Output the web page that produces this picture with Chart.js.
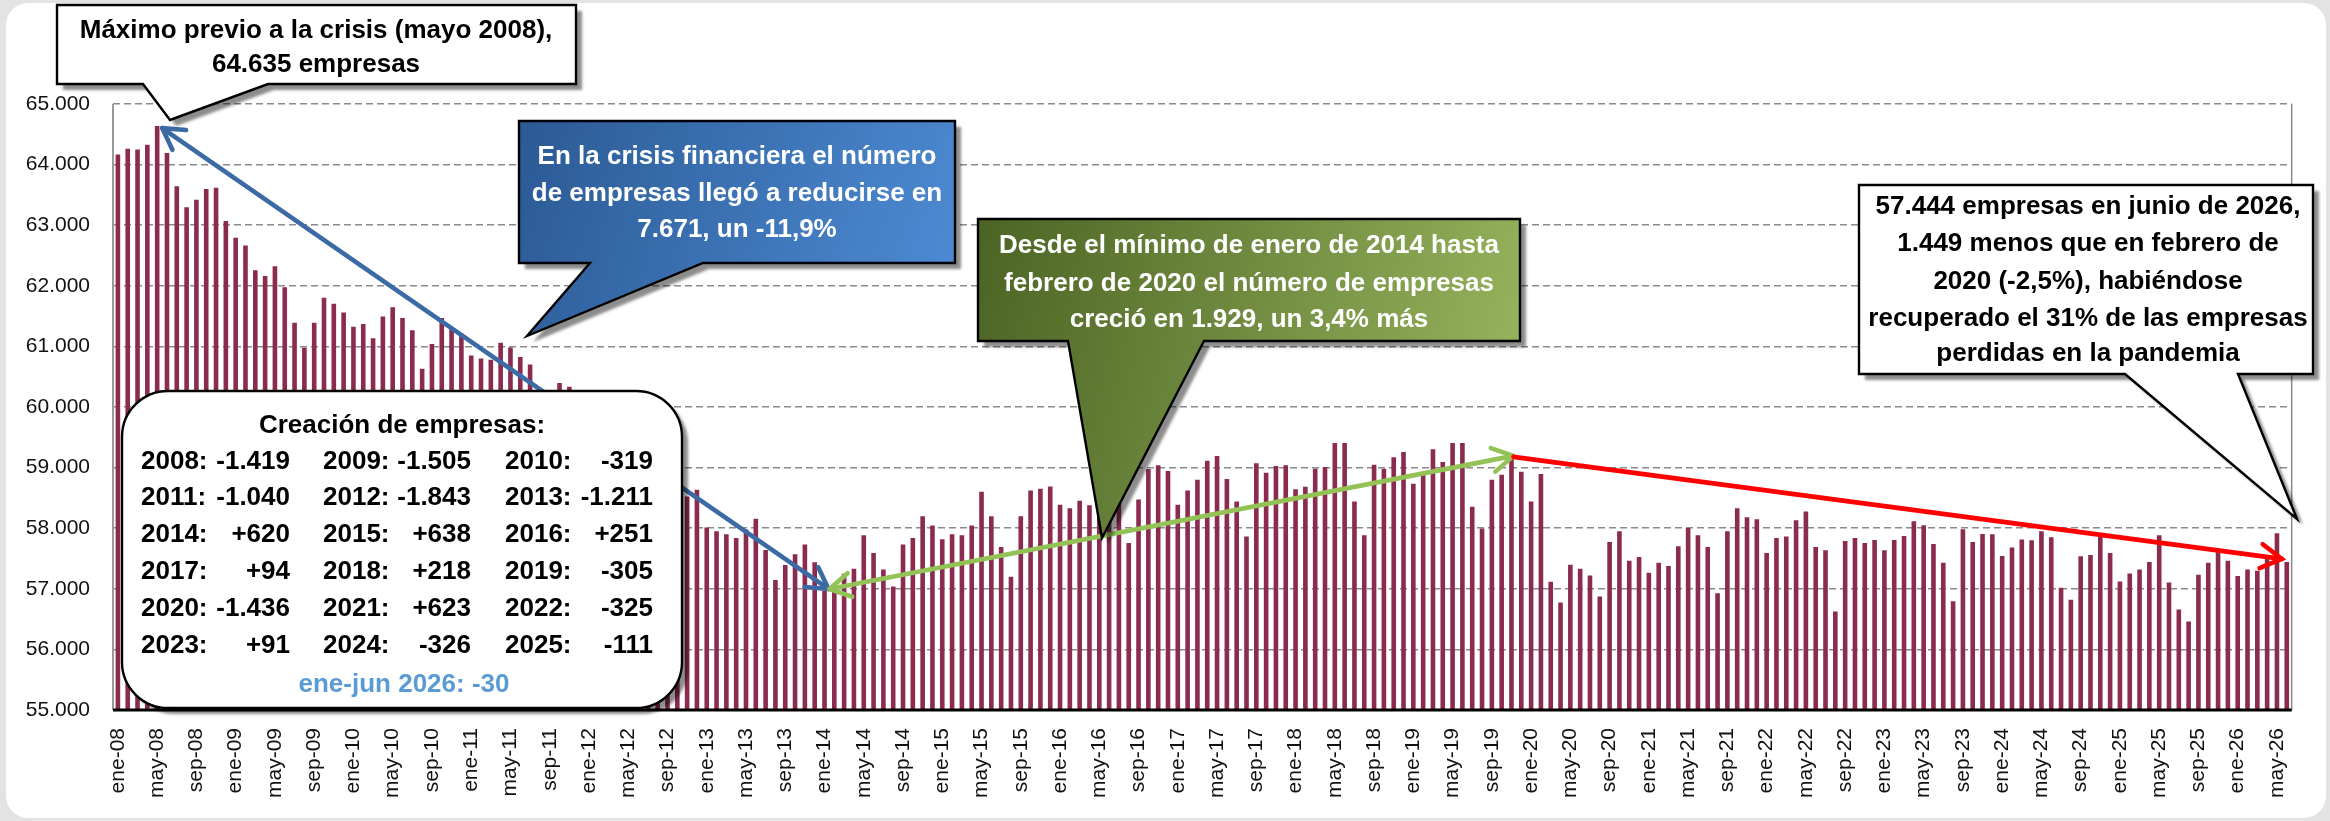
<!DOCTYPE html>
<html><head><meta charset="utf-8">
<script src="https://cdn.jsdelivr.net/npm/chart.js@4"></script>
<style>html,body{margin:0;padding:0;background:#e3e3e3;}canvas{display:block}</style>
</head><body>
<canvas id="c" width="2330" height="821"></canvas>
<script>
// ---------- DATA ----------
const meses = ['ene','feb','mar','abr','may','jun','jul','ago','sep','oct','nov','dic'];
const anios = ['08','09','10','11','12','13','14','15','16','17','18','19','20','21','22','23','24','25','26'];
// Número de empresas, ene-08 ... jun-26 (una fila por año)
const empresas = [
  64165,64262,64249,64328,64635,64190,63642,63296,63420,63597,63616,63068,
  62794,62663,62258,62161,62324,61978,61390,60979,61390,61802,61704,61560,
  61325,61371,61136,61495,61645,61469,61266,60633,61040,61469,61295,61210,
  60850,60800,60780,61060,60980,60825,60700,60180,60120,60398,60333,60150,
  59950,59850,59700,59750,59550,59300,59200,59000,58850,58750,58523,58634,
  58013,57948,57902,57837,57980,58157,57641,57145,57393,57569,57732,57439,
  56964,57050,57250,57330,57885,57591,57317,57036,57732,57837,58196,58045,
  57817,57902,57885,58045,58603,58196,57689,57200,58196,58623,58649,58688,
  58388,58329,58453,58380,58420,58330,58505,57754,58472,58975,59040,58943,
  58388,58623,58799,59112,59191,58812,58440,57865,59073,58916,59027,59040,
  58642,58685,58982,59008,59406,59406,58440,57885,59047,58982,59171,59256,
  58734,58930,59302,59093,59406,59406,58355,57995,58799,58884,59210,58930,
  58440,58893,57115,56775,57395,57330,57219,56873,57774,57950,57461,57526,
  57265,57428,57376,57702,58003,57885,57689,56925,57950,58329,58179,58146,
  57591,57839,57865,58133,58277,57689,57637,56625,57787,57839,57754,57807,
  57637,57807,57872,58114,58048,57741,57428,56795,57983,57774,57905,57900,
  57540,57680,57815,57800,57950,57852,57016,56821,57539,57559,57865,57591,
  57121,57252,57317,57441,57885,57102,56658,56462,57232,57428,57624,57461,
  57213,57317,57298,57539,57918,57444
];
const yTicks = [55000,56000,57000,58000,59000,60000,61000,62000,63000,64000,65000];
const creacionAnios = ['2008','2009','2010','2011','2012','2013','2014','2015','2016','2017','2018','2019','2020','2021','2022','2023','2024','2025'];
const creacionValores = ['-1.419','-1.505','-319','-1.040','-1.843','-1.211','+620','+638','+251','+94','+218','-305','-1.436','+623','-325','+91','-326','-111'];
const creacion2026 = 'ene-jun 2026: -30';
const anclas = { pico: 4, minimo: 72, preCovid: 142, ultimo: 221 };

const categorias = [];
anios.forEach(a => meses.forEach(m => { if (categorias.length < empresas.length) categorias.push(m + '-' + a); }));

// ---------- DRAW HELPERS ----------
const FONT = '"Liberation Sans", Arial, sans-serif';
function fmt(v){ return String(v).replace(/\B(?=(\d{3})+(?!\d))/g,'.'); }

function calloutPath(ctx,o){
  ctx.beginPath();
  ctx.moveTo(o.l,o.t); ctx.lineTo(o.r,o.t); ctx.lineTo(o.r,o.b);
  ctx.lineTo(o.br,o.b); ctx.lineTo(o.tip[0],o.tip[1]); ctx.lineTo(o.bl,o.b);
  ctx.lineTo(o.l,o.b); ctx.closePath();
}
function callout(ctx,o){
  ctx.save();
  calloutPath(ctx,o);
  ctx.shadowColor='rgba(0,0,0,0.45)'; ctx.shadowOffsetX=6; ctx.shadowOffsetY=6; ctx.shadowBlur=3;
  if (o.grad){
    const g = ctx.createLinearGradient(o.l,o.t,o.r,o.b);
    g.addColorStop(0,o.grad[0]); g.addColorStop(1,o.grad[1]);
    ctx.fillStyle=g;
  } else ctx.fillStyle='#fff';
  ctx.fill();
  ctx.shadowColor='transparent';
  ctx.lineWidth=2.4; ctx.strokeStyle='#000'; ctx.lineJoin='miter'; ctx.stroke();
  ctx.fillStyle=o.color; ctx.font='bold 26px '+FONT; ctx.textAlign='center'; ctx.textBaseline='middle';
  o.lines.forEach((s,i)=>ctx.fillText(s,o.cx,o.ys[i]));
  ctx.restore();
}
function arrowHead(ctx,x0,y0,x1,y1,len){
  const a=Math.atan2(y1-y0,x1-x0), h=Math.PI/6;
  ctx.beginPath();
  ctx.moveTo(x1-len*Math.cos(a-h), y1-len*Math.sin(a-h));
  ctx.lineTo(x1,y1);
  ctx.lineTo(x1-len*Math.cos(a+h), y1-len*Math.sin(a+h));
  ctx.stroke();
}
function arrow(ctx,p0,p1,color,w,both){
  ctx.save(); ctx.strokeStyle=color; ctx.lineWidth=w; ctx.lineCap='round'; ctx.lineJoin='round';
  ctx.beginPath(); ctx.moveTo(p0[0],p0[1]); ctx.lineTo(p1[0],p1[1]); ctx.stroke();
  arrowHead(ctx,p0[0],p0[1],p1[0],p1[1],24);
  if (both) arrowHead(ctx,p1[0],p1[1],p0[0],p0[1],24);
  ctx.restore();
}
function roundRect(ctx,x,y,w,h,r){
  ctx.beginPath();
  ctx.moveTo(x+r,y); ctx.lineTo(x+w-r,y); ctx.arcTo(x+w,y,x+w,y+r,r);
  ctx.lineTo(x+w,y+h-r); ctx.arcTo(x+w,y+h,x+w-r,y+h,r);
  ctx.lineTo(x+r,y+h); ctx.arcTo(x,y+h,x,y+h-r,r);
  ctx.lineTo(x,y+r); ctx.arcTo(x,y,x+r,y,r); ctx.closePath();
}

const deco = {
  id:'deco',
  beforeDraw(chart){
    const ctx=chart.ctx;
    ctx.save();
    ctx.fillStyle='#e3e3e3'; ctx.fillRect(0,0,chart.width,chart.height);
    roundRect(ctx,6,3,2320,815,22); ctx.fillStyle='#fff'; ctx.fill();
    ctx.restore();
  },
  afterDatasetsDraw(chart){
    const ctx=chart.ctx, a=chart.chartArea, xs=chart.scales.x, ys=chart.scales.y;
    ctx.save();
    // axis frame
    ctx.strokeStyle='#9a9a9a'; ctx.lineWidth=2;
    ctx.beginPath(); ctx.moveTo(a.left,a.top); ctx.lineTo(a.left,a.bottom); ctx.stroke();
    ctx.lineWidth=1.5; ctx.strokeStyle='#8a8a8a';
    ctx.beginPath(); ctx.moveTo(a.right,a.top); ctx.lineTo(a.right,a.bottom); ctx.stroke();
    ctx.strokeStyle='#000'; ctx.lineWidth=3.2;
    ctx.beginPath(); ctx.moveTo(a.left,a.bottom); ctx.lineTo(a.right,a.bottom); ctx.stroke();
    ctx.restore();

    const P = i => [xs.getPixelForValue(i), ys.getPixelForValue(empresas[i])];
    const pk=P(anclas.pico), mn=P(anclas.minimo), pc=P(anclas.preCovid), ul=P(anclas.ultimo);
    arrow(ctx,[mn[0]+4,mn[1]-2],[pk[0]+5,pk[1]+2],'#3B6AA5',4.6,true);
    arrow(ctx,[pc[0]+2,pc[1]+1],[mn[0]+5,mn[1]-2],'#93C356',4.6,true);
    ctx.save(); ctx.strokeStyle='#ff0000'; ctx.lineWidth=4.6; ctx.lineCap='round';
    ctx.beginPath(); ctx.moveTo(pc[0]+2,pc[1]+2); ctx.lineTo(ul[0]-5,ul[1]-3); ctx.stroke();
    arrowHead(ctx,pc[0]+2,pc[1]+2,ul[0]-5,ul[1]-3,24); ctx.restore();

    callout(ctx,{l:57,t:5,r:576,b:84,bl:143,br:268,tip:[170,120],color:'#000',
      lines:['Máximo previo a la crisis (mayo 2008),','64.635 empresas'],cx:316,ys:[31,65]});
    callout(ctx,{l:519,t:121,r:955,b:263,bl:590,br:703,tip:[527,336],grad:['#2B5A94','#4D8AD3'],color:'#fff',
      lines:['En la crisis financiera el número','de empresas llegó a reducirse en','7.671, un -11,9%'],cx:737,ys:[157,194,230]});
    callout(ctx,{l:978,t:219,r:1520,b:341,bl:1068,br:1204,tip:[1102,538],grad:['#4B6424','#95B25C'],color:'#fff',
      lines:['Desde el mínimo de enero de 2014 hasta','febrero de 2020 el número de empresas','creció en 1.929, un 3,4% más'],cx:1249,ys:[246,284,320]});
    callout(ctx,{l:1859,t:185,r:2313,b:374,bl:2125,br:2238,tip:[2297,519],color:'#000',
      lines:['57.444 empresas en junio de 2026,','1.449 menos que en febrero de','2020 (-2,5%), habiéndose','recuperado el 31% de las empresas','perdidas en la pandemia'],cx:2088,ys:[207,244,282,319,354]});

    // legend box
    ctx.save();
    roundRect(ctx,122,391,560,317,46);
    ctx.shadowColor='rgba(0,0,0,0.45)'; ctx.shadowOffsetX=6; ctx.shadowOffsetY=6; ctx.shadowBlur=3;
    ctx.fillStyle='#fff'; ctx.fill(); ctx.shadowColor='transparent';
    ctx.lineWidth=2.4; ctx.strokeStyle='#000'; ctx.stroke();
    ctx.font='bold 26px '+FONT; ctx.textBaseline='middle'; ctx.fillStyle='#000';
    ctx.textAlign='center'; ctx.fillText('Creación de empresas:',402,426);
    const colL=[141,323,505], colR=[290,471,653], rowY=[462,498,535,572,609,646];
    creacionAnios.forEach((yr,i)=>{
      const c=i%3, r=Math.floor(i/3);
      ctx.textAlign='left'; ctx.fillText(yr+':',colL[c],rowY[r]);
      ctx.textAlign='right'; ctx.fillText(creacionValores[i],colR[c],rowY[r]);
    });
    ctx.textAlign='center'; ctx.fillStyle='#5B9BD5'; ctx.fillText(creacion2026,404,685);
    ctx.restore();
  }
};

Chart.defaults.font.family = FONT;
new Chart(document.getElementById('c'),{
  type:'bar',
  data:{ labels:categorias, datasets:[{ data:empresas, backgroundColor:'#8A2B4F', barPercentage:0.47, categoryPercentage:1.0 }] },
  options:{
    responsive:false, animation:false, devicePixelRatio:1,
    layout:{ padding:{ left:0, right:13, top:104, bottom:0 } },
    plugins:{ legend:{display:false}, tooltip:{enabled:false} },
    scales:{
      x:{ grid:{display:false, drawTicks:false}, border:{display:false},
          ticks:{ autoSkip:false, maxRotation:90, minRotation:90, padding:18, color:'#111', font:{size:21},
                  callback:(v,i)=> i%4===0 ? categorias[i] : '' },
          afterFit:s=>{ s.height=111; } },
      y:{ min:yTicks[0], max:yTicks[yTicks.length-1],
          grid:{ color:'#8a8a8a', lineWidth:1.6, drawTicks:false },
          border:{ display:false, dash:[7,4] },
          ticks:{ stepSize:1000, padding:23, color:'#111', font:{size:21}, callback:v=>fmt(v) },
          afterFit:s=>{ s.width=113; } }
    }
  },
  plugins:[deco]
});
</script>
</body></html>
